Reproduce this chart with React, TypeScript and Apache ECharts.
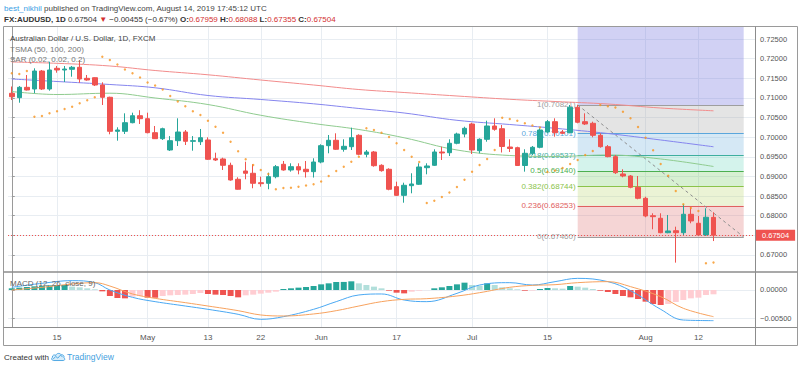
import React, { useEffect, useRef } from 'react';
import * as echarts from 'echarts';

// ---------- categories ----------
const days: string[] = [
  '2019-04-05', '2019-04-08', '2019-04-09', '2019-04-10', '2019-04-11', '2019-04-12', '2019-04-15', '2019-04-16', '2019-04-17', '2019-04-18', '2019-04-19', '2019-04-22', '2019-04-23', '2019-04-24', '2019-04-25', '2019-04-26', '2019-04-29', '2019-04-30',
  '2019-05-01', '2019-05-02', '2019-05-03', '2019-05-06', '2019-05-07', '2019-05-08', '2019-05-09', '2019-05-10', '2019-05-13', '2019-05-14', '2019-05-15', '2019-05-16', '2019-05-17', '2019-05-20', '2019-05-21', '2019-05-22', '2019-05-23', '2019-05-24', '2019-05-27', '2019-05-28', '2019-05-29', '2019-05-30', '2019-05-31',
  '2019-06-03', '2019-06-04', '2019-06-05', '2019-06-06', '2019-06-07', '2019-06-10', '2019-06-11', '2019-06-12', '2019-06-13', '2019-06-14', '2019-06-17', '2019-06-18', '2019-06-19', '2019-06-20', '2019-06-21', '2019-06-24', '2019-06-25', '2019-06-26', '2019-06-27', '2019-06-28',
  '2019-07-01', '2019-07-02', '2019-07-03', '2019-07-04', '2019-07-05', '2019-07-08', '2019-07-09', '2019-07-10', '2019-07-11', '2019-07-12', '2019-07-15', '2019-07-16', '2019-07-17', '2019-07-18', '2019-07-19', '2019-07-22', '2019-07-23', '2019-07-24', '2019-07-25', '2019-07-26', '2019-07-29', '2019-07-30', '2019-07-31',
  '2019-08-01', '2019-08-02', '2019-08-05', '2019-08-06', '2019-08-07', '2019-08-08', '2019-08-09', '2019-08-12', '2019-08-13', '2019-08-14',
];
const futureDays: string[] = ['2019-08-15', '2019-08-16', '2019-08-19', '2019-08-20', '2019-08-21'];
const tickDays: string[] = ['2019-04-15', '2019-05-01', '2019-05-13', '2019-05-22', '2019-06-03', '2019-06-17', '2019-07-01', '2019-07-15', '2019-08-01', '2019-08-12'];
const tickLabels: string[] = ['15', 'May', '13', '22', 'Jun', '17', 'Jul', '15', 'Aug', '12'];
const priceGridTicks: number[] = [0.67, 0.675, 0.68, 0.685, 0.69, 0.695, 0.7, 0.705, 0.71, 0.715, 0.72, 0.725];
const priceLabelTicks: number[] = [0.67, 0.68, 0.685, 0.69, 0.695, 0.7, 0.705, 0.71, 0.715, 0.72, 0.725];
const macdTicks: number[] = [-0.005, 0];

// ---------- OHLC [open, high, low, close] ----------
const candles: number[][] = [
  [0.71118, 0.71291, 0.70947, 0.71031], [0.71006, 0.71303, 0.70878, 0.71270], [0.71270, 0.71584, 0.71189, 0.71202], [0.71227, 0.71754, 0.71118, 0.71685],
  [0.71685, 0.71711, 0.71202, 0.71227], [0.71227, 0.71922, 0.71184, 0.71711], [0.71754, 0.71813, 0.71642, 0.71711], [0.71711, 0.71813, 0.71405, 0.71736],
  [0.71729, 0.71813, 0.71540, 0.71780], [0.71780, 0.71965, 0.71387, 0.71482], [0.71499, 0.71584, 0.71438, 0.71456], [0.71515, 0.71525, 0.71303, 0.71329],
  [0.71329, 0.71398, 0.70820, 0.71016], [0.71016, 0.71031, 0.70074, 0.70150], [0.70150, 0.70252, 0.69911, 0.70183], [0.70150, 0.70608, 0.70081, 0.70369],
  [0.70369, 0.70624, 0.70354, 0.70547], [0.70547, 0.70687, 0.70336, 0.70471], [0.70471, 0.70624, 0.70099, 0.70115], [0.70115, 0.70285, 0.69954, 0.69962],
  [0.69962, 0.70242, 0.69929, 0.70216], [0.69674, 0.70028, 0.69649, 0.69911], [0.69911, 0.70481, 0.69776, 0.70132], [0.70132, 0.70183, 0.69801, 0.69895],
  [0.69895, 0.70028, 0.69656, 0.69911], [0.69885, 0.70209, 0.69801, 0.69987], [0.69929, 0.69997, 0.69419, 0.69437], [0.69452, 0.69605, 0.69394, 0.69419],
  [0.69445, 0.69478, 0.69165, 0.69284], [0.69284, 0.69351, 0.68892, 0.68910], [0.68928, 0.68979, 0.68664, 0.68674], [0.69139, 0.69376, 0.68928, 0.69081],
  [0.69081, 0.69310, 0.68699, 0.68826], [0.68841, 0.68994, 0.68740, 0.68816], [0.68826, 0.69096, 0.68674, 0.68994], [0.68994, 0.69292, 0.68953, 0.69249],
  [0.69310, 0.69394, 0.69147, 0.69165], [0.69165, 0.69335, 0.69122, 0.69249], [0.69249, 0.69335, 0.69055, 0.69165], [0.69183, 0.69394, 0.68972, 0.69122],
  [0.69122, 0.69463, 0.68972, 0.69368], [0.69368, 0.69819, 0.69335, 0.69784], [0.69784, 0.70056, 0.69590, 0.69921], [0.69921, 0.70099, 0.69674, 0.69692],
  [0.69692, 0.69946, 0.69631, 0.69768], [0.69758, 0.70242, 0.69674, 0.69987], [0.70048, 0.70074, 0.69539, 0.69565], [0.69565, 0.69674, 0.69488, 0.69623],
  [0.69623, 0.69649, 0.69249, 0.69274], [0.69284, 0.69310, 0.69122, 0.69147], [0.69183, 0.69208, 0.68648, 0.68674], [0.68740, 0.68867, 0.68501, 0.68519],
  [0.68519, 0.68841, 0.68332, 0.68775], [0.68765, 0.69081, 0.68571, 0.68808], [0.68801, 0.69335, 0.68783, 0.69241], [0.69223, 0.69335, 0.69055, 0.69267],
  [0.69284, 0.69692, 0.69267, 0.69623], [0.69623, 0.69758, 0.69419, 0.69598], [0.69605, 0.69946, 0.69521, 0.69845], [0.69845, 0.70115, 0.69819, 0.70081],
  [0.70081, 0.70267, 0.69997, 0.70226], [0.70336, 0.70369, 0.69572, 0.69674], [0.69656, 0.69972, 0.69590, 0.69946], [0.69946, 0.70420, 0.69885, 0.70285],
  [0.70285, 0.70481, 0.70165, 0.70201], [0.70216, 0.70310, 0.69610, 0.69763], [0.69750, 0.69946, 0.69623, 0.69712], [0.69733, 0.69758, 0.69267, 0.69279],
  [0.69279, 0.69692, 0.69122, 0.69590], [0.69590, 0.69776, 0.69547, 0.69743], [0.69743, 0.70226, 0.69717, 0.70183], [0.70132, 0.70438, 0.70099, 0.70395],
  [0.70395, 0.70481, 0.70013, 0.70115], [0.70132, 0.70183, 0.70081, 0.70099], [0.70115, 0.70820, 0.70099, 0.70761], [0.70761, 0.70821, 0.70354, 0.70380],
  [0.70395, 0.70608, 0.70310, 0.70336], [0.70354, 0.70395, 0.69997, 0.70048], [0.70048, 0.70099, 0.69733, 0.69758], [0.69758, 0.69801, 0.69488, 0.69504],
  [0.69504, 0.69547, 0.69063, 0.69096], [0.69063, 0.69183, 0.68979, 0.69012], [0.69012, 0.69037, 0.68699, 0.68724], [0.68724, 0.69012, 0.68419, 0.68444],
  [0.68444, 0.68485, 0.67961, 0.67994], [0.68001, 0.68062, 0.67655, 0.67976], [0.67935, 0.68062, 0.67553, 0.67568], [0.67568, 0.68019, 0.67553, 0.67612],
  [0.67619, 0.67721, 0.66805, 0.67568], [0.67568, 0.68291, 0.67510, 0.68037], [0.68037, 0.68215, 0.67808, 0.67867], [0.67808, 0.67994, 0.67485, 0.67510],
  [0.67510, 0.68190, 0.67485, 0.67961], [0.67959, 0.68088, 0.67355, 0.67504],
];

// ---------- Parabolic SAR (one per bar) ----------
const sar: number[] = [
  0.71627, 0.71609, 0.71685, 0.70522, 0.70540, 0.70608, 0.70659, 0.70718, 0.70776, 0.70863, 0.70939, 0.71016,
  0.72049, 0.71965, 0.71851, 0.71724, 0.71627, 0.71520, 0.71393, 0.71316, 0.71214, 0.71049, 0.70909, 0.70787,
  0.70659, 0.70565, 0.70420, 0.70267, 0.70115, 0.69883, 0.69643, 0.69440, 0.69292, 0.69165, 0.69063,
  0.68673, 0.68707, 0.68714, 0.68740, 0.68770, 0.68803, 0.68872, 0.69012, 0.69139, 0.69249, 0.69374, 0.69503,
  0.70226, 0.70183, 0.70115, 0.70005, 0.69845, 0.69674, 0.69504, 0.69368,
  0.68325, 0.68383, 0.68477, 0.68592, 0.68732, 0.68918, 0.69122, 0.69292, 0.69445, 0.69674,
  0.70496, 0.70463, 0.70420, 0.70354, 0.70298, 0.70247,
  0.69114, 0.69152, 0.69216, 0.69318, 0.69419, 0.69547, 0.69649,
  0.70821, 0.70790, 0.70756, 0.70649, 0.70481, 0.70260, 0.69987, 0.69666, 0.69318, 0.69017, 0.68630, 0.68292, 0.68197, 0.68121,
  0.66789, 0.66810,
];

// ---------- TSMA (read at sampled bars: [bar index, value]) ----------
const ma200: number[][] = [[0, 0.71915], [6, 0.71881], [13, 0.71813], [19, 0.71698], [26, 0.71589], [33, 0.71456], [40, 0.71329], [46, 0.71214], [52, 0.71138], [59, 0.71049], [66, 0.70965], [72, 0.70909], [79, 0.70845], [86, 0.70743], [93, 0.70672]];
const ma100: number[][] = [[0, 0.71482], [6, 0.71418], [13, 0.71342], [19, 0.71258], [26, 0.71062], [33, 0.70960], [40, 0.70850], [46, 0.70731], [52, 0.70616], [59, 0.70430], [66, 0.70323], [72, 0.70227], [79, 0.70094], [86, 0.69929], [93, 0.69756]];
const ma50: number[][] = [[0, 0.71163], [6, 0.71087], [13, 0.71120], [19, 0.70998], [26, 0.70832], [33, 0.70558], [40, 0.70349], [46, 0.70196], [52, 0.69985], [59, 0.69674], [66, 0.69534], [72, 0.69509], [79, 0.69547], [86, 0.69445], [93, 0.69254]];

// ---------- MACD ----------
const macdHist: number[] = [
  0.00030, 0.00042, 0.00054, 0.00065, 0.00071, 0.00083, 0.00089, 0.00090, 0.00060, 0.00048, 0.00030, 0.00012,
  -0.00024, -0.00107, -0.00143, -0.00149, -0.00119, -0.00107, -0.00137, -0.00138, -0.00107, -0.00095, -0.00089, -0.00083,
  -0.00071, -0.00054, -0.00071, -0.00083, -0.00089, -0.00107, -0.00131, -0.00095, -0.00083, -0.00065, -0.00048, -0.00030,
  0.00018, 0.00030, 0.00042, 0.00054, 0.00071, 0.00101, 0.00119, 0.00143, 0.00144, 0.00155, 0.00119, 0.00089, 0.00060, 0.00030,
  -0.00012, -0.00048, -0.00060, -0.00030, -0.00012, -0.00002,
  0.00030, 0.00048, 0.00071, 0.00101, 0.00131, 0.00089, 0.00077, 0.00119, 0.00089, 0.00048, 0.00030, 0.00012,
  -0.00012, -0.00010, 0.00018, 0.00036, 0.00030, 0.00024, 0.00071, 0.00060, 0.00042, 0.00018,
  -0.00012, -0.00036, -0.00071, -0.00107, -0.00131, -0.00161, -0.00208, -0.00250, -0.00268, -0.00250, -0.00214, -0.00179, -0.00149, -0.00137, -0.00089, -0.00077,
];
const macdLine: number[][] = [[0, 0.00048], [4, 0.00119], [8, 0.00167], [11, 0.00131], [13, 0], [16, -0.00131], [19, -0.00208], [23, -0.00286], [26, -0.00345], [30, -0.00434], [33, -0.00524], [36, -0.00476], [40, -0.00345], [43, -0.00208], [46, -0.00089], [49, -0.00071], [52, -0.00179], [55, -0.00208], [59, -0.0006], [62, 0.00089], [66, 0.00131], [69, 0.00089], [72, 0.00149], [75, 0.00208], [79, 0.00149], [82, -0.00012], [86, -0.00345], [89, -0.00536], [93, -0.00547]];
const signalLine: number[][] = [[0, 0], [4, 0.00048], [8, 0.00107], [11, 0.00131], [13, 0.00071], [16, -0.00071], [19, -0.00149], [23, -0.00226], [26, -0.00286], [30, -0.00369], [33, -0.00446], [36, -0.00464], [40, -0.00428], [43, -0.00369], [46, -0.00286], [49, -0.00208], [52, -0.00167], [55, -0.00155], [59, -0.00107], [62, -0.00048], [66, 0.00048], [69, 0.00083], [72, 0.00095], [75, 0.00131], [79, 0.00149], [82, 0.0006], [86, -0.00119], [89, -0.00327], [93, -0.00476]];

// ---------- Fibonacci retracement ----------
const fibRatios: number[] = [1, 0.786, 0.618, 0.5, 0.382, 0.236, 0];
const fibPrices: number[] = [0.70821, 0.70101, 0.69537, 0.69140, 0.68744, 0.68253, 0.67460];
const fibStartDay = '2019-07-19';
const fibEndDay = '2019-08-20';
const lastClose = 0.67504;

// ---------- styles ----------
const FONT = 'Liberation Sans, Arial, sans-serif';
const GRID_COLOR = '#e8edf2';
const AXIS_COLOR = '#9a9a9a';
const UP = '#26a69a';
const DOWN = '#ef5350';
const fibLineColors = ['#9e9e9e', '#5aa6dc', '#3fae9f', '#4caf50', '#8bc34a', '#e06060', '#9e9e9e'];
const fibZoneColors = ['rgba(112,112,222,0.32)', 'rgba(165,165,165,0.3)', 'rgba(115,178,222,0.3)', 'rgba(112,215,192,0.3)', 'rgba(122,205,105,0.3)', 'rgba(188,215,115,0.3)', 'rgba(222,115,115,0.3)'];

const Y_MIN = 0.66567;
const Y_MAX = 0.72806;
const M_MIN = -0.006607;
const M_MAX = 0.003214;

const CLOUD_D = 'M4 14 C1 14 0 11 2 9.5 C1.5 6 5 5 7 6.5 C8 3 13 2.5 15 5.5 C18 5 20 7.5 19 10 C21 11 20.5 14 18 14 Z';
const ZIG_D = 'M3 12 L7 8 L10 10.5 L14 6 L17 9';

function buildOption() {
  const allDays = days.concat(futureDays);
  const tickIdx = tickDays.map((d) => allDays.indexOf(d));
  const fibStart = allDays.indexOf(fibStartDay);
  const fibEnd = allDays.indexOf(fibEndDay);
  const xMin = -0.5;
  const xMax = allDays.length - 0.5;

  const candleData = candles.map((c, i) => [i, c[0], c[3], c[2], c[1]]);
  const sarData = sar.map((v, i) => [i, v]);
  const histData = macdHist.map((v, i) => {
    const prev = i > 0 ? macdHist[i - 1] : v;
    const color = v >= 0 ? (v >= prev ? UP : '#b2dfdb') : (v < prev ? DOWN : '#ffcdd2');
    return { value: [i, v], itemStyle: { color } };
  });

  const zoneBounds = fibPrices.map((p, k) => [p, k === 0 ? Y_MAX : fibPrices[k - 1]]);

  const xAxisBase = (gridIndex: number, showLabels: boolean) => ({
    type: 'value',
    gridIndex,
    min: xMin,
    max: xMax,
    axisLine: { show: false },
    axisTick: { show: false, customValues: tickIdx },
    axisLabel: {
      show: showLabels,
      customValues: tickIdx,
      formatter: (v: number) => tickLabels[tickIdx.indexOf(Math.round(v))] || '',
      color: '#555',
      fontSize: 8,
      fontFamily: FONT,
      margin: 6,
    },
    splitLine: { show: true, lineStyle: { color: GRID_COLOR, width: 1 } },
  });

  const fmtMacd = (v: number) => (v < 0 ? '\u2212' : '') + Math.abs(v).toFixed(5);

  return {
    animation: false,
    backgroundColor: '#ffffff',
    textStyle: { fontFamily: FONT },
    grid: [
      { left: 8, right: 45, top: 27, height: 245 },
      { left: 8, right: 45, top: 272, height: 55 },
    ],
    xAxis: [xAxisBase(0, false), xAxisBase(1, true)],
    yAxis: [
      {
        type: 'value', gridIndex: 0, position: 'right', min: Y_MIN, max: Y_MAX,
        axisLine: { show: true, lineStyle: { color: AXIS_COLOR } },
        axisTick: { show: true, length: 3, customValues: priceGridTicks, lineStyle: { color: AXIS_COLOR } },
        axisLabel: { customValues: priceLabelTicks, formatter: (v: number) => v.toFixed(5), color: '#555', fontSize: 7.5, fontFamily: FONT, margin: 5 },
        splitLine: { show: true, lineStyle: { color: GRID_COLOR, width: 1 } },
      },
      {
        type: 'value', gridIndex: 1, position: 'right', min: M_MIN, max: M_MAX,
        axisLine: { show: true, lineStyle: { color: AXIS_COLOR } },
        axisTick: { show: true, length: 3, customValues: macdTicks, lineStyle: { color: AXIS_COLOR } },
        axisLabel: { customValues: macdTicks, formatter: fmtMacd, color: '#555', fontSize: 7.5, fontFamily: FONT, margin: 5 },
        splitLine: { show: true, lineStyle: { color: GRID_COLOR, width: 1 } },
      },
    ],
    series: [
      {
        name: 'TSMA 200', type: 'line', xAxisIndex: 0, yAxisIndex: 0, z: 3, data: ma200, smooth: 0.4,
        showSymbol: false, symbol: 'none', lineStyle: { color: '#f28c8c', width: 1 }, silent: true,
        markArea: {
          silent: true, z: 1,
          data: zoneBounds.map((b, k) => [
            { xAxis: fibStart, yAxis: b[0], itemStyle: { color: fibZoneColors[k] } },
            { xAxis: fibEnd, yAxis: b[1] },
          ]),
        },
        markLine: {
          silent: true, z: 2, symbol: ['none', 'none'], precision: 5,
          data: [
            ...fibPrices.map((p, k) => [
              {
                xAxis: fibStart, yAxis: p,
                lineStyle: { color: fibLineColors[k], width: 1, type: 'solid' },
                label: { show: true, position: 'start', distance: 2, formatter: `${fibRatios[k]}(${p.toFixed(5)})`, color: fibLineColors[k], fontSize: 8, fontFamily: FONT },
              },
              { xAxis: fibEnd, yAxis: p },
            ]),
            [
              { xAxis: fibStart, yAxis: fibPrices[0], lineStyle: { color: '#8f8f8f', width: 1, type: [3, 3] }, label: { show: false } },
              { xAxis: fibEnd, yAxis: fibPrices[fibPrices.length - 1] },
            ],
          ],
        },
      },
      { name: 'TSMA 100', type: 'line', xAxisIndex: 0, yAxisIndex: 0, z: 3, data: ma100, smooth: 0.4, showSymbol: false, symbol: 'none', lineStyle: { color: '#8585ee', width: 1 }, silent: true },
      { name: 'TSMA 50', type: 'line', xAxisIndex: 0, yAxisIndex: 0, z: 3, data: ma50, smooth: 0.4, showSymbol: false, symbol: 'none', lineStyle: { color: '#8fcb8f', width: 1 }, silent: true },
      {
        name: 'AUDUSD', type: 'candlestick', xAxisIndex: 0, yAxisIndex: 0, z: 4, barWidth: 5, data: candleData, silent: true,
        itemStyle: { color: UP, color0: DOWN, borderColor: UP, borderColor0: DOWN, borderWidth: 1 },
      },
      {
        name: 'SAR', type: 'scatter', xAxisIndex: 0, yAxisIndex: 0, z: 5, data: sarData, symbol: 'circle', symbolSize: 2.4, itemStyle: { color: '#f7931e' }, silent: true,
        markLine: {
          silent: true, symbol: ['none', 'none'], precision: 5,
          data: [{
            yAxis: lastClose,
            lineStyle: { color: DOWN, width: 1, type: [1, 2] },
            label: { show: true, position: 'end', distance: 1, formatter: lastClose.toFixed(5), color: '#fff', backgroundColor: DOWN, padding: [2, 6, 1, 6], fontSize: 7.5, fontFamily: FONT },
          }],
        },
      },
      { name: 'Histogram', type: 'bar', xAxisIndex: 1, yAxisIndex: 1, z: 2, data: histData, barWidth: 6, silent: true },
      { name: 'MACD', type: 'line', xAxisIndex: 1, yAxisIndex: 1, z: 3, data: macdLine, smooth: 0.4, showSymbol: false, symbol: 'none', lineStyle: { color: '#4aa8f2', width: 1 }, silent: true },
      { name: 'Signal', type: 'line', xAxisIndex: 1, yAxisIndex: 1, z: 3, data: signalLine, smooth: 0.4, showSymbol: false, symbol: 'none', lineStyle: { color: '#f7a25e', width: 1 }, silent: true },
    ],
    graphic: [
      { type: 'rect', z: 100, silent: true, shape: { x: 3.5, y: 26.5, width: 794, height: 319 }, style: { fill: 'none', stroke: AXIS_COLOR, lineWidth: 1 } },
      { type: 'line', z: 100, silent: true, shape: { x1: 3.5, y1: 272, x2: 797.5, y2: 272 }, style: { stroke: '#8c8c8c', lineWidth: 1.5 } },
      { type: 'line', z: 100, silent: true, shape: { x1: 3.5, y1: 327.5, x2: 797.5, y2: 327.5 }, style: { stroke: '#8c8c8c', lineWidth: 1 } },
      { type: 'line', z: 100, silent: true, shape: { x1: 755.5, y1: 26.5, x2: 755.5, y2: 345.5 }, style: { stroke: '#8c8c8c', lineWidth: 1 } },
      {
        type: 'text', z: 100, silent: true, x: 4, y: 8,
        style: {
          text: '{u|best_nikhil}{g| published on TradingView.com, August 14, 2019 17:45:12 UTC}',
          verticalAlign: 'middle', font: `8px ${FONT}`,
          rich: { u: { fill: '#3a9ee4', fontSize: 8, fontFamily: FONT }, g: { fill: '#444', fontSize: 8, fontFamily: FONT } },
        },
      },
      {
        type: 'text', z: 100, silent: true, x: 4, y: 19,
        style: {
          text: '{b|FX:AUDUSD, 1D}{n| 0.67504 }{r|\u25BC}{n| \u22120.00455 (\u22120.67%) }{b|O:}{r|0.67959}{b| H:}{r|0.68088}{b| L:}{r|0.67355}{b| C:}{r|0.67504}',
          verticalAlign: 'middle', font: `8px ${FONT}`,
          rich: {
            b: { fill: '#333', fontSize: 8, fontWeight: 'bold', fontFamily: FONT },
            n: { fill: '#333', fontSize: 8, fontFamily: FONT },
            r: { fill: '#d32f2f', fontSize: 8, fontFamily: FONT },
          },
        },
      },
      { type: 'text', z: 100, silent: true, x: 10, y: 38, style: { text: 'Australian Dollar / U.S. Dollar, 1D, FXCM', fill: '#444', font: `8px ${FONT}`, verticalAlign: 'middle' } },
      { type: 'text', z: 100, silent: true, x: 10, y: 49, style: { text: 'TSMA (50, 100, 200)', fill: '#777', font: `8px ${FONT}`, verticalAlign: 'middle' } },
      { type: 'text', z: 100, silent: true, x: 10, y: 59.5, style: { text: 'SAR (0.02, 0.02, 0.2)', fill: '#777', font: `8px ${FONT}`, verticalAlign: 'middle' } },
      { type: 'text', z: 100, silent: true, x: 10, y: 283, style: { text: 'MACD (12, 26, close, 9)', fill: '#666', font: `8px ${FONT}`, verticalAlign: 'middle' } },
      { type: 'text', z: 100, silent: true, x: 4, y: 357, style: { text: 'Created with', fill: '#333', font: `8px ${FONT}`, verticalAlign: 'middle' } },
      { type: 'tvcloud', z: 100, silent: true, x: 51, y: 351, scaleX: 0.68, scaleY: 0.68, style: { fill: '#d6ecfa', stroke: '#3fa0e0', lineWidth: 1.3 } },
      { type: 'tvzig', z: 101, silent: true, x: 51, y: 351, scaleX: 0.68, scaleY: 0.68, style: { fill: 'none', stroke: '#3fa0e0', lineWidth: 1.3 } },
      { type: 'text', z: 100, silent: true, x: 67, y: 357, style: { text: 'TradingView', fill: '#3fa0e0', font: `8.5px ${FONT}`, verticalAlign: 'middle' } },
    ],
  };
}

export default function App() {
  const ref = useRef<HTMLDivElement>(null);
  useEffect(() => {
    const el = ref.current;
    if (!el) return;
    echarts.graphic.registerShape('tvcloud', echarts.graphic.extendPath(CLOUD_D, {}));
    echarts.graphic.registerShape('tvzig', echarts.graphic.extendPath(ZIG_D, {}));
    const chart = echarts.init(el, null, { renderer: 'svg' });
    chart.setOption(buildOption() as any);
    return () => chart.dispose();
  }, []);
  return <div ref={ref} style={{ position: 'fixed', left: 0, top: 0, width: 800, height: 368, background: '#fff' }} />;
}
